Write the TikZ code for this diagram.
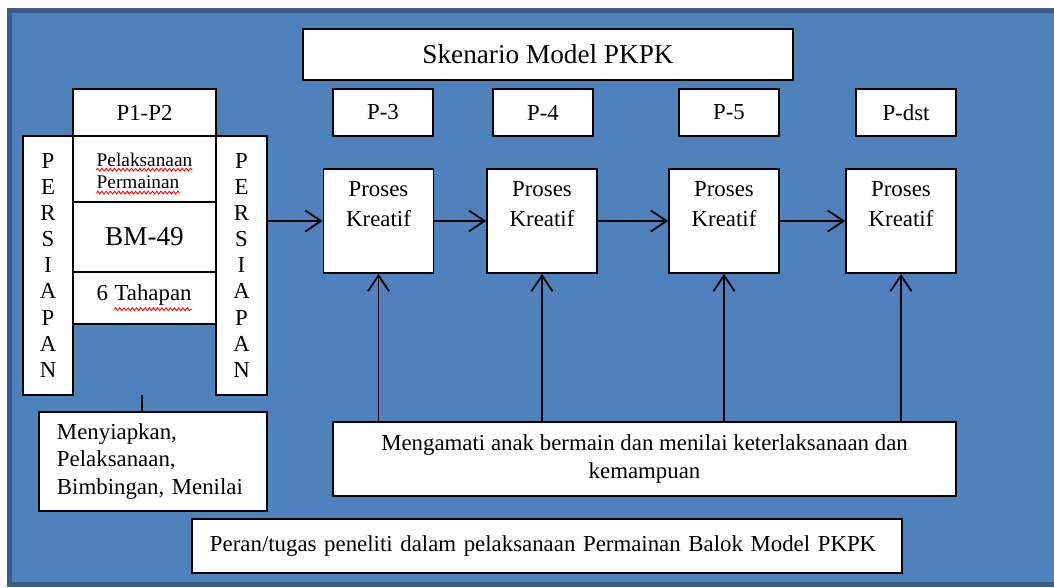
\documentclass[tikz,border=0pt]{standalone}
\usepackage{fontspec}
\setmainfont{Liberation Serif}
\usetikzlibrary{arrows.meta,decorations.pathmorphing}
\definecolor{slideblue}{HTML}{4F81BD}
\definecolor{slideedge}{HTML}{385D8A}
\newcommand\spellerr[1]{\tikz[baseline=(w.base)]{\node[inner sep=0pt,draw=none,fill=none,minimum width=0pt,minimum height=0pt] (w) {#1};
	\draw[red,line width=0.5pt,decorate,decoration={snake,amplitude=0.8pt,segment length=2.4pt}] ([yshift=-1.8pt]w.south west) -- ([yshift=-1.8pt]w.south east);}}

\begin{document}
\begin{tikzpicture}[x=0.2mm,y=-0.2mm,
		box/.style={draw,fill=white,line width=1pt,inner sep=0pt,font=\fontsize{13}{15.5}\selectfont},
		huruf/.style={box,minimum height=51.8mm,align=center,font=\fontsize{13}{14.8}\selectfont},
		kolom/.style={box,minimum width=28.6mm},
		>={Straight Barb[length=9pt,width=12pt]},
		link/.style={->,line width=1pt}]
	\useasboundingbox (0,0) rectangle (1054,587);
	\fill[slideblue,draw=slideedge,line width=1mm] (9.5,11) rectangle (1070,584.5);
	
	\node[box,minimum width=98mm,minimum height=10.2mm,font=\fontsize{15.5}{18}\selectfont] (judul) at (548,54.5) {Skenario Model PKPK};
	
	% pertemuan 1-2
	\node[kolom,minimum height=9.4mm] (p12) at (144.5,112.5) {P1-P2};
	\node[huruf,minimum width=10mm] (persL) at (48,265.5) {P\\E\\R\\S\\I\\A\\P\\A\\N};
	\node[huruf,minimum width=10.2mm] (persR) at (241.5,265.5) {P\\E\\R\\S\\I\\A\\P\\A\\N};
	\node[kolom,minimum height=13.2mm] (pel) at (144.5,169) {};
	\node[align=left,inner sep=0pt,yshift=-0.9mm,font=\fontsize{11}{13}\selectfont] (pelt) at (pel) {\spellerr{Pelaksanaan}\\\spellerr{Permainan}};
	\node[kolom,minimum height=14mm,font=\fontsize{15.5}{18}\selectfont] (bm) at (144.5,237) {BM-49};
	\node[kolom,minimum height=10.4mm] (tah) at (144.5,298) {6 \spellerr{Tahapan}};
	
	\node[box,minimum height=19.8mm,text width=38.4mm,inner xsep=3.6mm,align=left] (meny) at (153,461.5) {Menyiapkan,\\Pelaksanaan,\\Bimbingan, Menilai};
	\coordinate (tangkai) at (142,395);
	\draw[line width=1pt] (tangkai) -- (tangkai |- meny.north);
	
	% pertemuan berikutnya
	\foreach \nama/\teks/\x in {p3/P-3/383,p4/P-4/543,p5/P-5/729,pdst/P-dst/906}
		\node[box,minimum width=20mm,minimum height=9.4mm] (\nama) at (\x,112.5) {\teks};
	
	\foreach \i/\x in {1/378.5,2/542,3/724,4/901}{
		\node[box,minimum width=22mm,minimum height=20.8mm] (k\i) at (\x,221) {};
		\node[anchor=north,align=center,inner sep=0pt,yshift=-2.7mm,font=\fontsize{13}{17}\selectfont] (k\i t) at (k\i.north) {Proses\\Kreatif};
	}
	
	\node[box,minimum width=124.6mm,minimum height=14.8mm,align=center,font=\fontsize{13}{16.5}\selectfont] (amati) at (644.5,459) {Mengamati anak bermain dan menilai keterlaksanaan dan\\kemampuan};
	\node[box,minimum height=10.8mm,text width=134.8mm,inner xsep=3.6mm,align=left] (peran) at (547,546) {Peran/tugas peneliti dalam pelaksanaan Permainan Balok Model PKPK};
	
	\draw[link] (k1.west -| persR.east) -- (k1.west);
	\foreach \a/\b in {k1/k2,k2/k3,k3/k4}
		\draw[link] (\a) -- (\b);
	\foreach \i in {1,...,4}
		\draw[link] (k\i.south |- amati.north) -- (k\i.south);
\end{tikzpicture}
\end{document}
